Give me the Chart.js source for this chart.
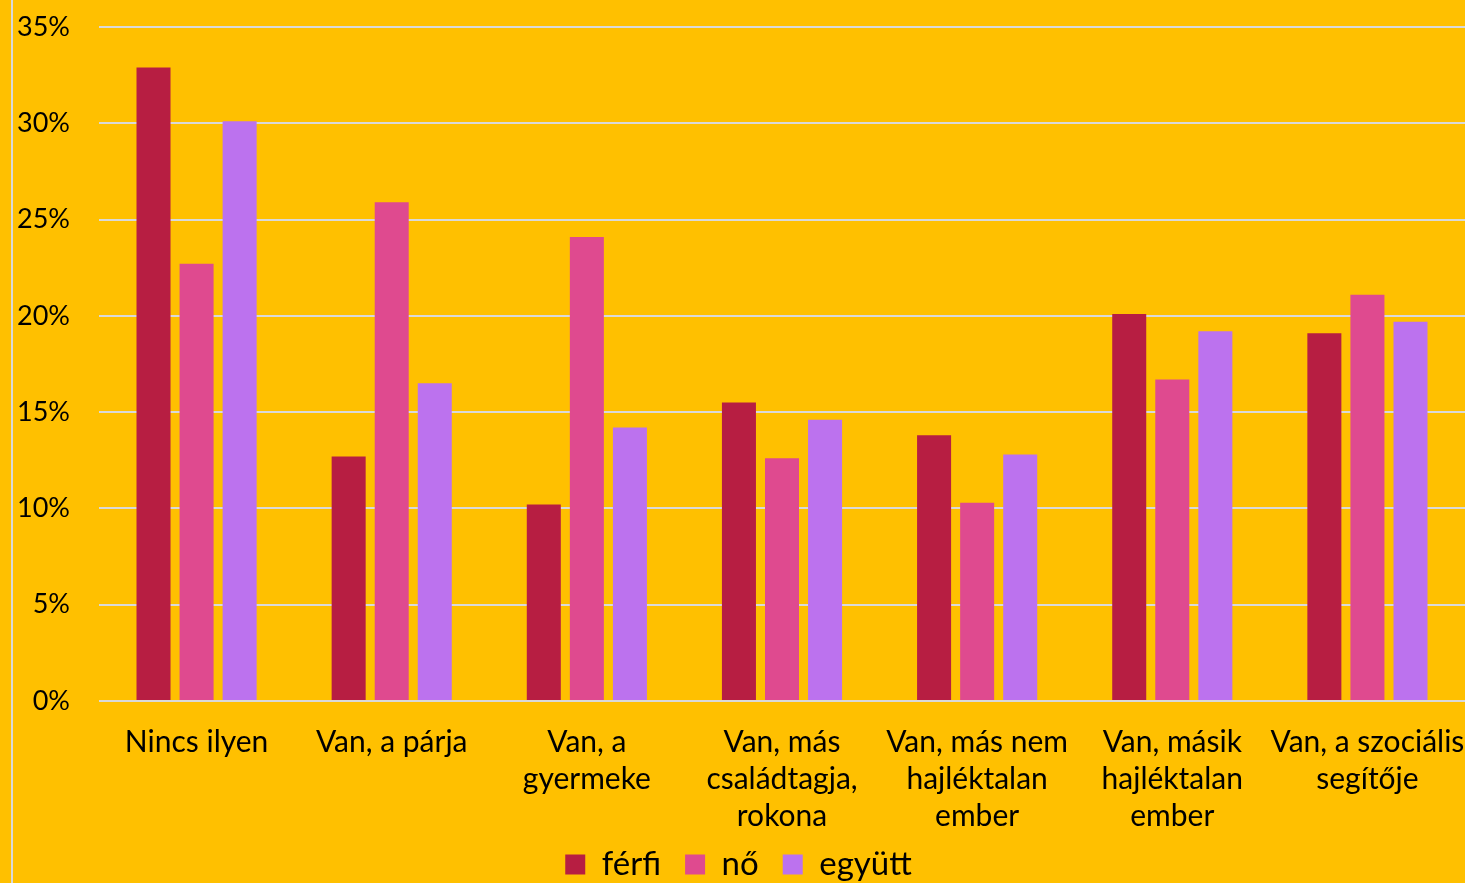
<!DOCTYPE html>
<html>
<head>
<meta charset="utf-8">
<script src="https://cdn.jsdelivr.net/npm/chart.js@4"></script>
<style>
    html, body { margin: 0; padding: 0; background: #FFC000; }
    .chart-box { position: relative; width: 1465px; height: 883px; overflow: hidden; }
    .edge { position: absolute; left: 11px; top: 0; width: 2px; height: 883px; background: #D9D9D9; }
</style>
</head>
<body>
<div class="chart-box">
    <canvas id="myChart" width="1465" height="883"></canvas>
    <div class="edge"></div>
</div>
<script>
const categories = [
    "Nincs ilyen",
    "Van, a párja",
    ["Van, a", "gyermeke"],
    ["Van, más", "családtagja,", "rokona"],
    ["Van, más nem", "hajléktalan", "ember"],
    ["Van, másik", "hajléktalan", "ember"],
    ["Van, a szociális", "segítője"]
];
const ferfi = [32.9, 12.7, 10.2, 15.5, 13.8, 20.1, 19.1];
const no = [22.7, 25.9, 24.1, 12.6, 10.3, 16.7, 21.1];
const egyutt = [30.1, 16.5, 14.2, 14.6, 12.8, 19.2, 19.7];
const yTicks = [0, 5, 10, 15, 20, 25, 30, 35];

const font = "Lato, 'DejaVu Sans', sans-serif";

// setup
const data = {
    labels: categories,
    datasets: [
        { label: "férfi", data: ferfi, backgroundColor: "#B71E42" },
        { label: "nő", data: no, backgroundColor: "#DF4A8F" },
        { label: "együtt", data: egyutt, backgroundColor: "#BC72EE" }
    ]
};

// the x labels run into the legend band, so let them draw past the axis box
const unclipLabels = {
    id: "unclipLabels",
    afterLayout: (chart) => {
        chart.scales.x.bottom += 30;
    }
};

// config
const config = {
    type: "bar",
    data,
    plugins: [unclipLabels],
    options: {
        responsive: false,
        animation: false,
        datasets: {
            bar: { categoryPercentage: 0.662, barPercentage: 0.79 }
        },
        layout: { padding: { left: 12, right: 0, top: 27, bottom: 0 } },
        plugins: {
            tooltip: { enabled: false },
            legend: {
                position: "bottom",
                maxHeight: 59,
                labels: {
                    boxWidth: 20,
                    boxHeight: 20,
                    padding: 24,
                    color: "#000",
                    font: { family: font, size: 33 }
                }
            }
        },
        scales: {
            x: {
                grid: { display: false },
                border: { display: false },
                ticks: {
                    autoSkip: false,
                    maxRotation: 0,
                    minRotation: 0,
                    padding: 15,
                    color: "#000",
                    font: { family: font, size: 30, lineHeight: 1.233 }
                },
                afterFit: (scale) => {
                    scale.height = 123;
                    scale.paddingLeft = 0;
                    scale.paddingRight = 0;
                }
            },
            y: {
                min: 0,
                max: 35,
                afterBuildTicks: (scale) => {
                    scale.ticks = yTicks.map(v => ({ value: v }));
                },
                grid: { color: "#D9D9D9", lineWidth: 2, drawTicks: false },
                border: { display: false },
                ticks: {
                    padding: 29,
                    color: "#000",
                    font: { family: font, size: 27 },
                    callback: (v) => v + "%"
                },
                afterFit: (scale) => {
                    scale.width = 87;
                    scale.paddingTop = 0;
                    scale.paddingBottom = 0;
                }
            }
        }
    }
};

// render
window.myChart = new Chart(document.getElementById("myChart"), config);
</script>
</body>
</html>
